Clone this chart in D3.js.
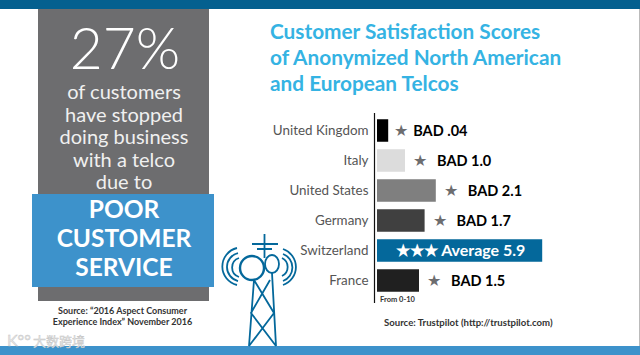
<!DOCTYPE html>
<html>
<head>
<meta charset="utf-8">
<script src="https://cdn.jsdelivr.net/npm/d3@7"></script>
<style>
html, body { margin: 0; padding: 0; background: #fff; }
svg { display: block; }
text { font-family: Lato, "Noto Sans", sans-serif; }
</style>
</head>
<body>
<svg id="chart" width="640" height="355"></svg>
<script>
//Chart data
const COUNTRIES = ["United Kingdom", "Italy", "United States", "Germany", "Switzerland", "France"];
const SCORES = [0.4, 1.0, 2.1, 1.7, 5.9, 1.5];
const SCORE_LABELS = ["BAD .04", "BAD 1.0", "BAD 2.1", "BAD 1.7", "\u2605\u2605\u2605 Average 5.9", "BAD 1.5"];
const BAR_COLORS = ["#000000", "#dcdcdc", "#7f7f7f", "#404040", "#04689b", "#202020"];
const TITLE_LINES = ["Customer Satisfaction Scores", "of Anonymized North American", "and European Telcos"];
const PANEL_LINES = ["of customers", "have stopped", "doing business", "with a telco", "due to"];
const BOX_LINES = ["POOR", "CUSTOMER", "SERVICE"];
const SOURCE_LINES = ["Source: \u201c2016 Aspect Consumer", "Experience Index\u201d November 2016"];

const svg = d3.select("#chart");

function textLines(lines, x, y, step, size, color, weight, anchor) {
	return svg.append("g")
		.selectAll("text")
		.data(lines)
		.enter().append("text")
		.attr("x", x)
		.attr("y", function (d, i) { return y + i * step; })
		.attr("font-size", size)
		.attr("font-weight", weight)
		.attr("fill", color)
		.attr("text-anchor", anchor)
		.text(function (d) { return d; });
}

//Frame
svg.append("rect").attr("width", 640).attr("height", 9).attr("fill", "#04608f");
svg.append("rect").attr("y", 346).attr("width", 640).attr("height", 9).attr("fill", "#3d92cb");
svg.append("rect").attr("x", 639).attr("y", 9).attr("width", 1).attr("height", 337).attr("fill", "#bbbbbb");

//Left panel
svg.append("rect").attr("x", 38).attr("y", 9).attr("width", 171).attr("height", 292).attr("fill", "#6d6d6f");
svg.append("rect").attr("x", 32).attr("y", 194).attr("width", 182).attr("height", 93).attr("fill", "#3d92cb");
textLines(["27%"], 125, 69, 0, 57, "#ffffff", 300, "middle");
textLines(PANEL_LINES, 124, 99, 22.5, 20, "#f0f0f0", 400, "middle");
textLines(BOX_LINES, 124, 218, 29, 24.5, "#ffffff", 700, "middle");
textLines(SOURCE_LINES, 122.5, 314, 11, 9, "#333333", 700, "middle");

//Title and source
textLines(TITLE_LINES, 270, 39, 26, 20.8, "#35b3e3", 700, "start");
textLines(["Source: Trustpilot (http://trustpilot.com)"], 384, 326, 0, 9.6, "#333333", 700, "start");

//Bar chart
const xScale = d3.scaleLinear().domain([0, 10]).range([377, 657]);
const yScale = d3.scaleBand().domain(COUNTRIES).range([115.5, 295.5]).paddingInner(0.25).paddingOuter(0.125);

svg.append("g")
	.selectAll("rect")
	.data(COUNTRIES)
	.enter().append("rect")
	.attr("x", xScale(0))
	.attr("y", function (d) { return yScale(d); })
	.attr("width", function (d, i) { return xScale(SCORES[i]) - xScale(0); })
	.attr("height", yScale.bandwidth())
	.attr("fill", function (d, i) { return BAR_COLORS[i]; });

const yAxis = svg.append("g")
	.attr("transform", "translate(374.5,0)")
	.call(d3.axisLeft(yScale).tickSize(0).tickPadding(6));
yAxis.select(".domain").attr("d", "M0,113V303").attr("stroke", "#111111").attr("stroke-width", 1.2);
yAxis.selectAll("text").attr("font-size", 13.4).attr("fill", "#555555")
	.style("font-family", "Lato, 'Noto Sans', sans-serif");

//Value labels
COUNTRIES.forEach(function (c, i) {
	const cy = yScale(c) + yScale.bandwidth() / 2;
	const end = xScale(SCORES[i]);
	if (SCORES[i] > 5) {
		svg.append("text").attr("x", (xScale(0) + end) / 2 + 1).attr("y", cy + 5.5)
			.attr("text-anchor", "middle").attr("font-size", 16).attr("font-weight", 700)
			.attr("fill", "#ffffff").text(SCORE_LABELS[i]);
		return;
	}
	svg.append("text").attr("x", end + (i === 0 ? 6 : 8)).attr("y", cy + 5.5)
		.attr("font-size", 16).attr("fill", "#6d6d6f").text("\u2605");
	svg.append("text").attr("x", end + (i === 0 ? 25 : 32)).attr("y", cy + 5.5)
		.attr("font-size", 14.5).attr("font-weight", 700).attr("fill", "#000000").text(SCORE_LABELS[i]);
});
textLines(["From 0-10"], 380, 302, 0, 7.5, "#333333", 700, "start");

//Radio tower icon
const tower = svg.append("g").attr("fill", "none").attr("stroke", "#04689b").attr("stroke-width", 1.8);
tower.append("path").attr("d", "M264.5,234V258M252,244H278M257,249H272");
tower.append("ellipse").attr("cx", 252).attr("cy", 268).attr("rx", 12).attr("ry", 12).attr("stroke-width", 2.4);
tower.append("ellipse").attr("cx", 272).attr("cy", 264).attr("rx", 7).attr("ry", 9);
tower.append("path").attr("d", "M249,346L254,280M276,346L272,273M254,280L274,313L249,346M270,280L251,313L276,346");
tower.append("path").attr("d", "M237,248A19,19 0 0 0 237,285M238,253A14.4,14.4 0 0 0 238,281M239,258A10,10 0 0 0 239,277");
tower.append("path").attr("d", "M283,249A19,19 0 0 1 283,285M283,254A14.4,14.4 0 0 1 283,281M282,258A10,10 0 0 1 282,276");

//Watermark
svg.append("text").attr("x", 7).attr("y", 346).attr("font-size", 16).attr("fill", "#e6e6e6")
	.attr("stroke", "#c4c4c4").attr("stroke-width", 0.4).text("K\u00b0\u00b0");
svg.append("text").attr("x", 33).attr("y", 346).attr("font-size", 13).attr("fill", "#e6e6e6")
	.attr("stroke", "#c4c4c4").attr("stroke-width", 0.4)
	.style("font-family", "'Noto Sans CJK SC'").text("\u5927\u6570\u8de8\u5883");
</script>
</body>
</html>
